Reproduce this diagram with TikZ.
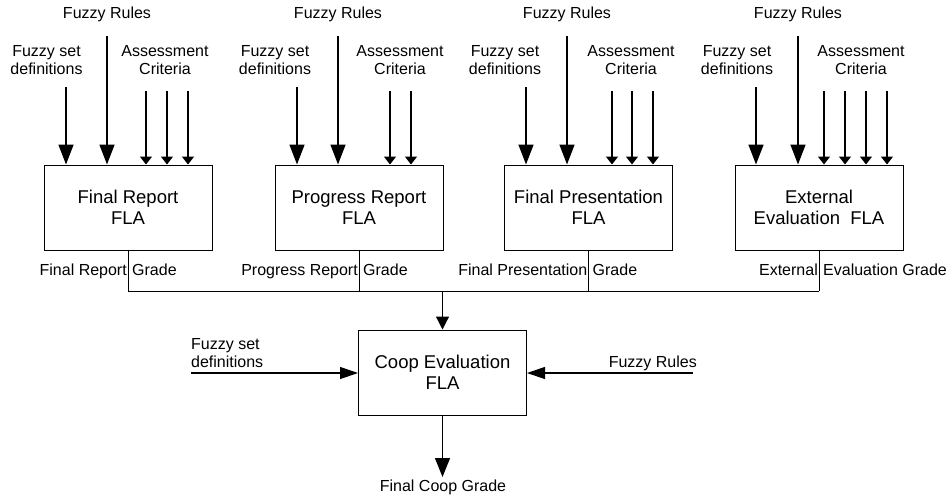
\documentclass[tikz,border=0pt]{standalone}
\usepackage{fontspec}
\setmainfont{Liberation Sans}
\usetikzlibrary{arrows.meta}

\begin{document}
\begin{tikzpicture}[x=1pt,y=-1pt,
  fla/.style={draw,line width=1pt,minimum width=168pt,minimum height=85pt,inner sep=0pt,align=center,font=\fontsize{18.5}{21}\selectfont},
  lbl/.style={inner sep=0pt,align=center,font=\fontsize{16}{18}\selectfont},
  bigarr/.style={line width=1.6pt,-{Triangle[length=20pt,width=15pt]}},
  smallarr/.style={line width=1.6pt,-{Triangle[length=8pt,width=12pt]}},
  midarr/.style={line width=1.2pt,-{Triangle[length=13pt,width=13pt]}},
  sidearr/.style={line width=1.2pt,-{Triangle[length=18pt,width=12pt]}},
  outarr/.style={line width=1.2pt,-{Triangle[length=19pt,width=15pt]}},
  wire/.style={line width=1pt}]
\useasboundingbox (0,0) rectangle (950,498);
% the four FLA blocks
\foreach \n/\x/\t in {fr/128/{Final Report\\FLA},pr/359/{Progress Report\\FLA},fp/588.5/{Final Presentation\\FLA},ee/819/{External\\Evaluation~~FLA}}
  \node[fla] (\n) at (\x,207.5) {\t};
% fuzzy set definitions and fuzzy rules on top of each block
\foreach \n/\s/\sl/\r in {fr/66/46.5/107,pr/297/275/338,fp/526/505/567,ee/756/737/798} {
  \node[lbl] (\n-sl) at (\sl,60) {Fuzzy set\\definitions};
  \node[lbl,anchor=base] (\n-rl) at (\r,18) {Fuzzy Rules};
  \coordinate (\n-s) at (\s,87);
  \coordinate (\n-r) at (\r,36);
  \draw[bigarr] (\n-s) -- (\n-s |- \n.north);
  \draw[bigarr] (\n-r) -- (\n-r |- \n.north);
}
% assessment criteria
\foreach \n/\c in {fr/165,pr/400,fp/631,ee/861}
  \node[lbl] (\n-cl) at (\c,60) {Assessment\\Criteria};
\foreach \n/\c [count=\i] in {fr/146,fr/167,fr/188,pr/390,pr/411,fp/612,fp/632,fp/653,ee/824,ee/845,ee/866,ee/887} {
  \coordinate (c\i) at (\c,91);
  \draw[smallarr] (c\i) -- (c\i |- \n.north);
}
% grades down to the bus
\foreach \n/\a/\b in {fr/Final Report/Grade,pr/Progress Report/Grade,fp/Final Presentation/Grade,ee/External/Evaluation Grade} {
  \coordinate (\n-g) at (\n.south |- 0,291);
  \draw[wire] (\n) -- (\n-g);
  \node[lbl,anchor=base east,inner xsep=1pt] (\n-ga) at (\n.south |- 0,275) {\a};
  \node[lbl,anchor=base west,inner xsep=4pt] (\n-gb) at (\n.south |- 0,275) {\b};
}
\draw[wire] (fr-g) -- (ee-g);
% coop evaluation
\node[fla] (coop) at (442.5,372.5) {Coop Evaluation\\FLA};
\coordinate (bus) at (coop |- fr-g);
\draw[midarr] (bus) -- (coop);
\coordinate (set-in) at (191,373);
\coordinate (rules-in) at (693,373);
\node[lbl,anchor=west,align=left] (set-l) at (191,353) {Fuzzy set\\definitions};
\node[lbl,anchor=base east] (rules-l) at (697,367) {Fuzzy Rules};
\draw[sidearr] (set-in) -- (set-in -| coop.west);
\draw[sidearr] (rules-in) -- (rules-in -| coop.east);
\node[lbl,anchor=base] (grade) at (443,491) {Final Coop Grade};
\draw[outarr] (coop) -- (coop |- 0,477);
\end{tikzpicture}
\end{document}
